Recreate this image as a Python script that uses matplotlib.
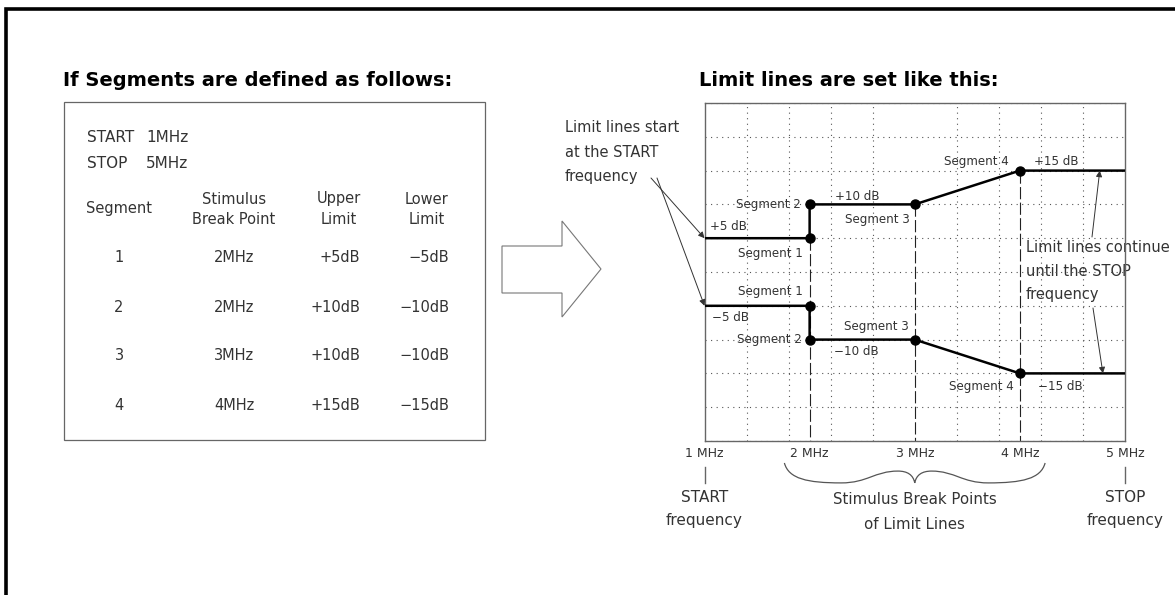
import numpy as np
import matplotlib.pyplot as plt
from matplotlib.path import Path
from matplotlib.patches import PathPatch, Polygon, Rectangle

# segment table
segments = [1, 2, 3, 4]
break_mhz = [2, 2, 3, 4]
upper_db = [5, 10, 10, 15]
lower_db = [-5, -10, -10, -15]
start_mhz = 1
stop_mhz = 5
tick_mhz = [1, 2, 3, 4, 5]
db_range = 25

W, H = 1175, 595
TXT = '#333333'

def db_text(v, sep=''):
    return "{0:+d}{1}dB".format(v, sep).replace('-', '\u2212')

fig = plt.figure(figsize=(W / 100, H / 100), dpi=100)

# background axes in pixel coordinates, for the page decoration
bg = fig.add_axes([0, 0, 1, 1])
bg.set_xlim(0, W)
bg.set_ylim(H, 0)
bg.axis('off')

# outer frame (only top and left edges are inside the picture)
bg.plot([6, 6, W], [H, 8.5, 8.5], color='black', lw=2.6, solid_joinstyle='miter')

# titles
bg.text(63, 80, "If Segments are defined as follows:", fontsize=14, fontweight='bold',
        ha='left', va='center')
bg.text(699, 80, "Limit lines are set like this:", fontsize=14, fontweight='bold',
        ha='left', va='center')

# table box
bg.add_patch(Rectangle((64, 102), 421, 338, fill=False, ec='#666666', lw=0.9))
bg.text(87, 138, "START", fontsize=11, color=TXT, va='center')
bg.text(146, 138, "{0}MHz".format(start_mhz), fontsize=11, color=TXT, va='center')
bg.text(87, 163, "STOP", fontsize=11, color=TXT, va='center')
bg.text(146, 163, "{0}MHz".format(stop_mhz), fontsize=11, color=TXT, va='center')

bg.text(119, 209, "Segment", fontsize=10.5, color=TXT, ha='center', va='center')
for xc, head in [(234, "Stimulus\nBreak Point"), (339, "Upper\nLimit"), (427, "Lower\nLimit")]:
    top, bot = head.split("\n")
    bg.text(xc, 199, top, fontsize=10.5, color=TXT, ha='center', va='center')
    bg.text(xc, 219, bot, fontsize=10.5, color=TXT, ha='center', va='center')

for i, (s, b, u, l) in enumerate(zip(segments, break_mhz, upper_db, lower_db)):
    y = 258 + i * 49
    bg.text(119, y, str(s), fontsize=10.5, color=TXT, ha='center', va='center')
    bg.text(234, y, "{0}MHz".format(b), fontsize=10.5, color=TXT, ha='center', va='center')
    bg.text(360, y, db_text(u), fontsize=10.5, color=TXT, ha='right', va='center')
    bg.text(449, y, db_text(l), fontsize=10.5, color=TXT, ha='right', va='center')

# big hollow arrow between the two halves
bg.add_patch(Polygon([(502, 246), (562, 246), (562, 221), (601, 269), (562, 317),
                      (562, 293), (502, 293)], closed=True, fill=False, ec='#777777', lw=0.8))

# notes (drawn on the page, the chart grid shows through them)
for j, line in enumerate(["Limit lines start", "at the START", "frequency"]):
    bg.text(565, 128 + j * 24.5, line, fontsize=10.5, color=TXT, va='center')
for j, line in enumerate(["Limit lines continue", "until the STOP", "frequency"]):
    bg.text(1026, 247 + j * 24, line, fontsize=10.5, color=TXT, va='center')

# limit line chart
ax = fig.add_axes([704.5 / W, 1 - 441 / H, 420.5 / W, 338 / H])
ax.set_facecolor('none')
ax.set_xlim(start_mhz, stop_mhz)
ax.set_ylim(-db_range, db_range)
ax.set_xticks(tick_mhz)
ax.set_xticklabels(["{0} MHz".format(v) for v in tick_mhz], fontsize=9, color=TXT)
ax.set_yticks([])
ax.set_xticks(np.linspace(start_mhz, stop_mhz, 11), minor=True)
ax.set_yticks(np.arange(-db_range, db_range + 1, 5), minor=True)
ax.grid(which='minor', ls=(0, (1, 4)), color='#555555', lw=0.8)
ax.tick_params(which='both', length=0, pad=4)
for sp in ax.spines.values():
    sp.set_color('#666666')
    sp.set_linewidth(1.0)

# dashed lines at each break point (one per frequency)
for b, u in dict(zip(break_mhz[::-1], upper_db[::-1])).items():
    ax.plot([b, b], [u, -db_range], color='#222222', lw=0.8, dashes=(11, 3), zorder=2)

lx = [start_mhz] + break_mhz + [stop_mhz]
ax.plot(lx, [upper_db[0]] + upper_db + [upper_db[-1]], color='black', lw=1.8, zorder=3)
ax.plot(lx, [lower_db[0]] + lower_db + [lower_db[-1]], color='black', lw=1.8, zorder=3)
ax.plot(break_mhz, upper_db, 'o', color='black', ms=6.5, zorder=4)
ax.plot(break_mhz, lower_db, 'o', color='black', ms=6.5, zorder=4)

# segment labels, offsets in pixels
up_off = [(-7, -15), (-9, 0), (-5, -15), (-11, 9)]
lo_off = [(-7, 14), (-8, 0), (-6, 13), (-6, -13)]
for i, (b, u, l) in enumerate(zip(break_mhz, upper_db, lower_db)):
    ax.annotate("Segment {0}".format(segments[i]), (b, u), xytext=up_off[i],
                textcoords='offset pixels', ha='right', va='center', fontsize=8.6, color=TXT)
    ax.annotate("Segment {0}".format(segments[i]), (b, l), xytext=lo_off[i],
                textcoords='offset pixels', ha='right', va='center', fontsize=8.6, color=TXT)

# dB level labels where each new level starts
lvl_x = [start_mhz, break_mhz[1], break_mhz[3]]
lvl_up = [upper_db[0], upper_db[1], upper_db[3]]
lvl_lo = [lower_db[0], lower_db[1], lower_db[3]]
lvl_up_off = [(6, 12), (25, 8), (14, 9)]
lvl_lo_off = [(8, -12), (24, -12), (18, -13)]
for i in range(3):
    ax.annotate(db_text(lvl_up[i], ' '), (lvl_x[i], lvl_up[i]), xytext=lvl_up_off[i],
                textcoords='offset pixels', ha='left', va='center', fontsize=8.6, color=TXT)
    ax.annotate(db_text(lvl_lo[i], ' '), (lvl_x[i], lvl_lo[i]), xytext=lvl_lo_off[i],
                textcoords='offset pixels', ha='left', va='center', fontsize=8.6, color=TXT)

# note arrows
arw = dict(arrowstyle='-|>', color='#333333', lw=0.7, mutation_scale=9, shrinkA=0, shrinkB=0)
ax.annotate('', (start_mhz, upper_db[0]), xytext=(651, 178), textcoords=bg.transData,
            arrowprops=arw, annotation_clip=False)
ax.annotate('', (start_mhz, lower_db[0]), xytext=(657, 178), textcoords=bg.transData,
            arrowprops=arw, annotation_clip=False)
ax.annotate('', (4.76, upper_db[-1]), xytext=(1092, 237), textcoords=bg.transData,
            arrowprops=arw)
ax.annotate('', (4.79, lower_db[-1]), xytext=(1093, 308), textcoords=bg.transData,
            arrowprops=arw)

# START / STOP marks below the axis
xt = ax.get_xaxis_transform()
for f, name in [(start_mhz, "START"), (stop_mhz, "STOP")]:
    ax.plot([f, f], [-0.077, -0.124], transform=xt, color='#666666', lw=1, clip_on=False)
    ax.text(f, -0.166, name, transform=xt, fontsize=11, color=TXT, ha='center', va='center')
    ax.text(f, -0.234, "frequency", transform=xt, fontsize=11, color=TXT, ha='center', va='center')

# brace under the break points
xl, xc = 1.76, 3.0
half = [(xl, -0.065), (1.80, -0.112), (1.98, -0.124), (2.30, -0.124),
        (2.55, -0.124), (2.62, -0.089), (2.84, -0.089),
        (2.93, -0.089), (2.985, -0.100), (xc, -0.124)]
mirror = [(2 * xc - x, y) for x, y in half[::-1]][1:]
verts = half + mirror
codes = [Path.MOVETO] + [Path.CURVE4] * (len(verts) - 1)
ax.add_patch(PathPatch(Path(verts, codes), transform=xt, fill=False, ec='#555555',
                       lw=0.9, clip_on=False))
ax.text(xc, -0.172, "Stimulus Break Points", transform=xt, fontsize=10.8, color=TXT,
        ha='center', va='center')
ax.text(xc, -0.246, "of Limit Lines", transform=xt, fontsize=10.8, color=TXT,
        ha='center', va='center')

plt.savefig('out.png', dpi=100)
